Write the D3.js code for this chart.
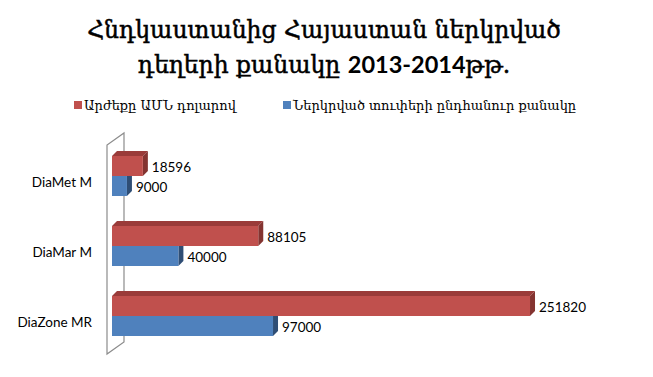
<!DOCTYPE html>
<html><head><meta charset="utf-8">
<script src="https://cdn.jsdelivr.net/npm/d3@7"></script>
<style>body{margin:0;background:#fff}svg{display:block}</style>
</head><body>
<svg id="c" width="653" height="377"></svg>
<script>
const categories = ["DiaMet M", "DiaMar M", "DiaZone MR"];
const seriesNames = ["Արժեքը ԱՄՆ դոլարով", "Ներկրված տուփերի ընդհանուր քանակը"];
const valueUSD = [18596, 88105, 251820];
const valueBoxes = [9000, 40000, 97000];
const titleLines = [["Հնդկաստանից Հայաստան ներկրված", ""], ["դեղերի քանակը ", "2013-2014", "թթ."]];

const svg = d3.select("#c");
const font = "Lato, 'DejaVu Sans', sans-serif";
const armFont = "'DejaVu Serif', serif";
const x = d3.scaleLinear().domain([0, 300000]).range([112, 610]);
const y = d3.scaleBand().domain(categories).range([141, 351]).paddingInner(30/70).paddingOuter(15/70);
const yS = d3.scaleBand().domain([0,1]).range([0, y.bandwidth()]);
const dx = 5, dy = -5;

// title
titleLines.forEach((parts,i)=>{
  const t = svg.append("text").attr("x", 324).attr("y", 38 + i*35)
    .attr("text-anchor","middle").attr("font-size", 23.5).attr("fill","#000");
  parts.forEach(p=>{
    if(!p) return;
    const isNum = /\d/.test(p);
    t.append("tspan").attr("font-family", isNum ? font : armFont)
      .attr("font-weight", isNum ? 700 : 400)
      .attr("stroke", isNum ? "none" : "#000").attr("stroke-width", 0.5).text(p);
  });
});

// legend
const colors = [{front:"#C0504D", top:"#9A3B39", side:"#843431"},{front:"#4F81BD", top:"#3E6797", side:"#2F4E75"}];
const legX = [74, 283];
seriesNames.forEach((n,i)=>{
  svg.append("rect").attr("x",legX[i]).attr("y",101).attr("width",8).attr("height",8).attr("fill",colors[i].front);
  svg.append("text").attr("x",legX[i]+10).attr("y",110).attr("font-family",armFont).attr("font-size",13).attr("fill","#000").text(n);
});

// wall
const wx0 = 107, wdx = 17, wdy = -12, wTop = 145, wBot = 354;
svg.append("path")
  .attr("d", `M${wx0},${wBot} L${wx0},${wTop} L${wx0+wdx},${wTop+wdy} L${wx0+wdx},${wBot+wdy} Z`)
  .attr("fill","none").attr("stroke","#8c8c8c").attr("stroke-width",1.2);

// bars
function bar3d(g, x0, x1, y0, h, c){
  g.append("path").attr("d",`M${x0},${y0} L${x0+dx},${y0+dy} L${x1+dx},${y0+dy} L${x1},${y0} Z`).attr("fill",c.top);
  g.append("path").attr("d",`M${x1},${y0} L${x1+dx},${y0+dy} L${x1+dx},${y0+h+dy} L${x1},${y0+h} Z`).attr("fill",c.side);
  g.append("rect").attr("x",x0).attr("y",y0).attr("width",x1-x0).attr("height",h).attr("fill",c.front);
}
const g = svg.append("g");
categories.forEach((cat,i)=>{
  const vals = [valueUSD[i], valueBoxes[i]];
  [1,0].forEach(s=>{
    const y0 = y(cat) + yS(s);
    bar3d(g, x(0), x(vals[s]), y0, yS.bandwidth(), colors[s]);
  });
  [0,1].forEach(s=>{
    const y0 = y(cat) + yS(s);
    svg.append("text").attr("x", x(vals[s]) + dx + 4).attr("y", y0 + yS.bandwidth()/2 + 1)
      .attr("dominant-baseline","central").attr("font-family",font).attr("font-size",13.5).attr("fill","#000")
      .text(vals[s]);
  });
  svg.append("text").attr("x",92).attr("y", y(cat)+y.bandwidth()/2+6).attr("dominant-baseline","central")
    .attr("text-anchor","end").attr("font-family",font).attr("font-size",13.5).attr("fill","#000").text(cat);
});
</script>
</body></html>
